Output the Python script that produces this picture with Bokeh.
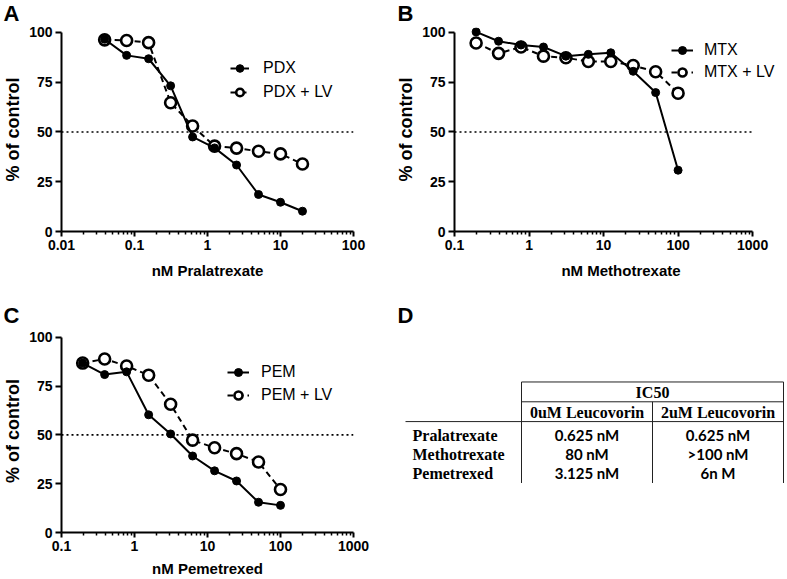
from bokeh.plotting import figure
from bokeh.models import Range1d, FixedTicker, Legend, LegendItem
from bokeh.layouts import column, row
from bokeh.embed import file_html
from bokeh.resources import INLINE
from bokeh.core.properties import value

# ---------------- data ----------------
conc_A = [0.039, 0.078, 0.156, 0.3125, 0.625, 1.25, 2.5, 5, 10, 20]
pdx = [96.6, 88.5, 86.8, 73.2, 47.5, 42.0, 33.4, 18.6, 14.7, 10.2]
pdx_lv = [96.3, 96.0, 94.9, 64.7, 53.0, 42.9, 41.9, 40.3, 39.0, 33.9]

conc_B = [0.195, 0.39, 0.78, 1.5625, 3.125, 6.25, 12.5, 25, 50, 100]
mtx = [100.3, 95.6, 93.7, 92.7, 88.1, 89.0, 89.8, 80.5, 69.8, 30.8]
mtx_lv = [94.7, 89.5, 92.7, 88.1, 87.3, 85.4, 85.4, 83.4, 80.3, 69.5]

conc_C = [0.195, 0.39, 0.78, 1.5625, 3.125, 6.25, 12.5, 25, 50, 100]
pem = [86.8, 80.9, 82.3, 60.3, 50.5, 39.2, 31.6, 26.4, 15.5, 13.9]
pem_lv = [86.8, 88.9, 85.3, 80.6, 65.7, 47.3, 43.4, 40.4, 36.1, 22.0]

xticks_A = [0.01, 0.1, 1, 10, 100]
xlabels_A = ["0.01", "0.1", "1", "10", "100"]
xticks_BC = [0.1, 1, 10, 100, 1000]
xlabels_BC = ["0.1", "1", "10", "100", "1000"]
yticks = [0, 25, 50, 75, 100]
ylabels = ["0", "25", "50", "75", "100"]
cutoff = 50

drugs = ["Pralatrexate", "Methotrexate", "Pemetrexed"]
header = ["0uM Leucovorin", "2uM Leucovorin"]
ic50_0uM = ["0.625 nM", "80 nM", "3.125 nM"]
ic50_2uM = ["0.625 nM", ">100 nM", "6n M"]

SANS = "Liberation Sans"
SERIF = "Liberation Serif"


def set_letter(p, letter, offset, valign):
    p.title.text = letter
    p.title.align = "left"
    p.title.offset = offset
    p.title.standoff = 0
    p.title.vertical_align = valign
    p.title.text_font = SANS
    p.title.text_font_style = "bold"
    p.title.text_font_size = "22px"
    p.title.text_color = "black"


def panel(letter, conc, ys, ys_lv, names, xlabel, xticks, xlabels, w, h,
          left, right, top, bottom, extra_px, ytop, leg_x, leg_y, leg_gw,
          leg_std, leg_sp, xlab_std, letter_dx):
    frame_w = w - left - right
    axis_w = frame_w - extra_px
    decades = len(xticks) - 1
    x_end = xticks[-1] * 10 ** (decades * extra_px / axis_w)
    p = figure(width=w, height=h, x_axis_type="log",
               x_range=Range1d(xticks[0], x_end), y_range=Range1d(0, ytop),
               output_backend="svg", toolbar_location=None,
               min_border_left=left, min_border_right=right,
               min_border_top=top, min_border_bottom=bottom)
    p.outline_line_color = None
    p.grid.visible = False
    p.background_fill_color = "white"
    p.border_fill_color = "white"
    set_letter(p, letter, letter_dx - left, "top")

    minors = []
    for t in xticks[:-1]:
        minors += [t * m for m in range(2, 10)]
    p.xaxis.ticker = FixedTicker(ticks=xticks, minor_ticks=minors)
    p.xaxis.major_label_overrides = {t: s for t, s in zip(xticks, xlabels)}
    p.xaxis.bounds = (xticks[0], xticks[-1])
    p.yaxis.ticker = FixedTicker(ticks=yticks, minor_ticks=[])
    p.yaxis.major_label_overrides = {t: s for t, s in zip(yticks, ylabels)}
    p.yaxis.bounds = (0, 100)

    for ax in (p.xaxis[0], p.yaxis[0]):
        ax.axis_line_width = 2
        ax.axis_line_color = "black"
        ax.major_tick_line_width = 2
        ax.major_tick_line_color = "black"
        ax.major_tick_in = 0
        ax.minor_tick_in = 0
        ax.minor_tick_line_width = 1.5
        ax.minor_tick_line_color = "black"
        ax.major_label_text_font = SANS
        ax.major_label_text_font_style = "bold"
        ax.major_label_text_font_size = "14px"
        ax.major_label_text_color = "black"
        ax.axis_label_text_font = SANS
        ax.axis_label_text_font_style = "bold"
        ax.axis_label_text_color = "black"
        ax.major_label_standoff = 3
    p.xaxis.major_tick_out = 5
    p.xaxis.minor_tick_out = 3
    p.yaxis.major_tick_out = 6
    p.xaxis.axis_label = xlabel
    p.xaxis.axis_label_text_font_size = "15px"
    p.xaxis.axis_label_standoff = xlab_std
    p.yaxis.axis_label = "% of control"
    p.yaxis.axis_label_text_font_size = "18px"
    p.yaxis.axis_label_standoff = 3

    p.line([xticks[0], xticks[-1]], [cutoff, cutoff], line_color="black",
           line_width=1.6, line_dash="2 3")

    l2 = p.line(conc, ys_lv, line_color="black", line_width=2, line_dash="6 4")
    s2 = p.scatter(conc, ys_lv, size=11, fill_color="white", line_color="black",
                   line_width=2.6)
    l1 = p.line(conc, ys, line_color="black", line_width=2)
    s1 = p.scatter(conc, ys, size=8, fill_color="black", line_color="black")

    leg = Legend(items=[LegendItem(label=names[0], renderers=[l1, s1]),
                        LegendItem(label=names[1], renderers=[l2, s2])],
                 location=(leg_x, leg_y), border_line_alpha=0,
                 background_fill_alpha=0, padding=0, margin=0,
                 spacing=leg_sp, glyph_width=leg_gw, glyph_height=20,
                 label_height=20, label_standoff=leg_std,
                 label_text_font=SANS, label_text_font_size="16px",
                 label_text_color="black")
    p.add_layout(leg)
    return p


pA = panel("A", conc_A, pdx, pdx_lv, ["PDX", "PDX + LV"], "nM Pralatrexate",
           xticks_A, xlabels_A, 393, 290, 57, 40, 25, 59, 0, 102.5,
           169, 129, 19, 14, 4, 9, -1)
pB = panel("B", conc_B, mtx, mtx_lv, ["MTX", "MTX + LV"], "nM Methotrexate",
           xticks_BC, xlabels_BC, 394, 290, 60, 0, 25, 59, 35, 102.5,
           217, 149, 22, 11, 2, 9, 3)
pC = panel("C", conc_C, pem, pem_lv, ["PEM", "PEM + LV"], "nM Pemetrexed",
           xticks_BC, xlabels_BC, 393, 289, 57, 40, 39, 45, 0, 104,
           166, 127, 22, 12, 3, 6, -1)

# ---------------- table panel D ----------------
# data units of this panel equal pixels of the panel (y measured from its top)
pD = figure(width=394, height=289, x_range=Range1d(0, 394), y_range=Range1d(244, 39),
            x_axis_type=None, y_axis_type=None, output_backend="svg",
            toolbar_location=None, min_border_left=0, min_border_right=0,
            min_border_top=39, min_border_bottom=45)
pD.outline_line_color = None
pD.grid.visible = False
pD.background_fill_color = "white"
pD.border_fill_color = "white"
set_letter(pD, "D", 4, "top")

col_edges = [128, 259, 390]
col_centers = [(col_edges[0] + col_edges[1]) / 2, (col_edges[1] + col_edges[2]) / 2]
row_y = [146, 165, 184]

pD.text(x=[(col_edges[0] + col_edges[2]) / 2], y=[103], text=["IC50"],
        text_font=value(SERIF), text_font_style="bold", text_font_size="16px",
        text_align="center", text_baseline="middle", text_color="black")
pD.text(x=col_centers, y=[123, 123], text=header, text_font=value(SERIF),
        text_font_style="bold", text_font_size="16px", text_align="center",
        text_baseline="middle", text_color="black")
pD.text(x=[19] * 3, y=row_y, text=drugs, text_font=value(SERIF),
        text_font_style="bold", text_font_size="16px", text_align="left",
        text_baseline="middle", text_color="black")
pD.text(x=[col_centers[0]] * 3, y=row_y, text=ic50_0uM, text_font=value("Lato"),
        text_font_style="bold", text_font_size="15px", text_align="center",
        text_baseline="middle", text_color="black")
pD.text(x=[col_centers[1]] * 3, y=row_y, text=ic50_2uM, text_font=value("Lato"),
        text_font_style="bold", text_font_size="15px", text_align="center",
        text_baseline="middle", text_color="black")
pD.segment(x0=[col_edges[0], col_edges[0], 12, col_edges[0], col_edges[1], col_edges[2]],
           y0=[92, 112, 132, 92, 112, 92],
           x1=[col_edges[2], col_edges[2], col_edges[2], col_edges[0], col_edges[1], col_edges[2]],
           y1=[92, 112, 132, 194, 194, 194],
           line_color="#222222", line_width=1)

layout = column(row(pA, pB), row(pC, pD))

open("out.html", "w").write(file_html(layout, INLINE))
